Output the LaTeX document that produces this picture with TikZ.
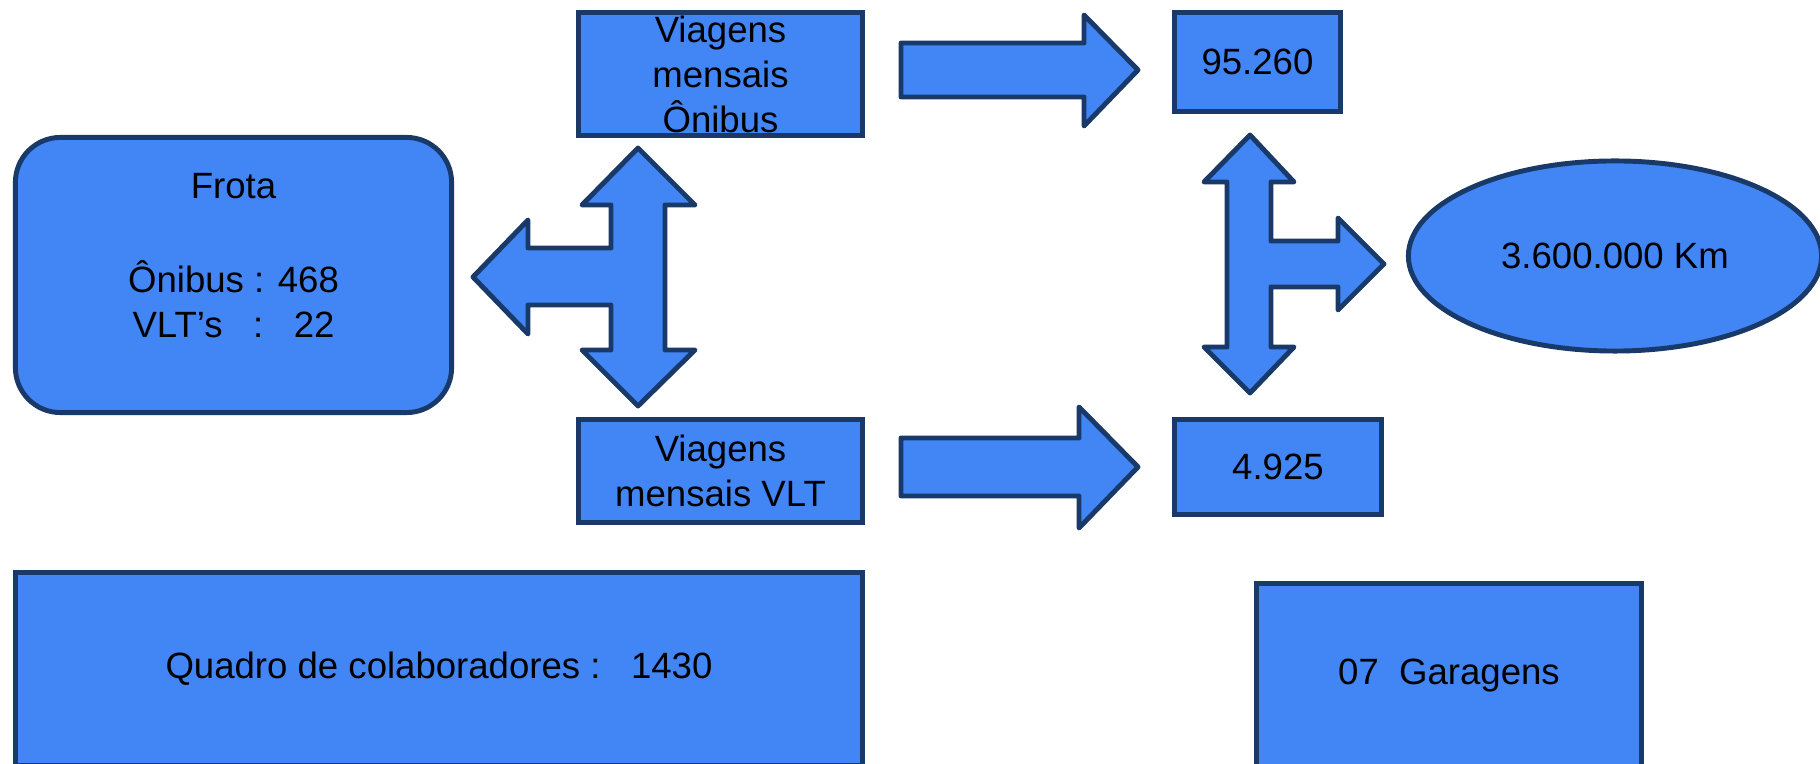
\documentclass[tikz,border=0pt]{standalone}
\usepackage{fontspec}
\setmainfont{Liberation Sans}
\usetikzlibrary{shapes.geometric}
\definecolor{boxfill}{RGB}{66,133,244}
\definecolor{boxedge}{RGB}{25,57,105}

\begin{document}
\begin{tikzpicture}[x=0.01cm, y=-0.01cm,
    box/.style={draw=boxedge, fill=boxfill, line width=1.4pt, inner sep=0pt,
        align=center, font=\fontsize{10.4}{12.8}\selectfont},
    blockarrow/.style={draw=boxedge, fill=boxfill, line width=1.4pt, line join=round}]
\useasboundingbox (0,0) rectangle (1820,764);

% Fleet
\node[box, rounded corners=0.45cm, minimum width=4.36cm, minimum height=2.75cm] (frota) at (233.5,275)
    {\rule{0pt}{12.4pt}Frota\\ \strut\\ \strut Ônibus : 468\\ \strut VLT’s\ \ \ :\ \ \ 22\\ \strut};

% Monthly trips
\node[box, minimum width=2.84cm, minimum height=1.23cm] (vonibus) at (720.5,74) {Viagens\\ mensais\\ Ônibus};
\node[box, minimum width=2.84cm, minimum height=1.03cm] (vvlt) at (720.5,471) {Viagens\\ mensais VLT};

% Totals
\node[box, minimum width=1.66cm, minimum height=0.99cm] (n95) at (1257.5,62) {95.260};
\node[box, minimum width=2.07cm, minimum height=0.95cm] (n4925) at (1278,467) {4.925};
\node[box, ellipse, minimum width=4.13cm, minimum height=1.90cm] (km) at (1615,256) {3.600.000 Km};

% Staff and garages
\node[box, minimum width=8.47cm, minimum height=1.92cm] (quadro) at (439,669) {Quadro de colaboradores :\ \ \ 1430};
\node[box, minimum width=3.85cm, minimum height=1.84cm] (garagens) at (1449,676) {07\ \ Garagens};

% Block arrows
\draw[blockarrow] (638,148) -- (695,205) -- (665,205) -- (665,350) -- (695,350) -- (638,406)
    -- (582,350) -- (611,350) -- (611,305) -- (528,305) -- (528,334) -- (473,277)
    -- (528,220) -- (528,248) -- (611,248) -- (611,205) -- (582,205) -- cycle;
\draw[blockarrow] (1250,135) -- (1294,182) -- (1271,182) -- (1271,241) -- (1338,241) -- (1338,218)
    -- (1384,264) -- (1338,310) -- (1338,287) -- (1271,287) -- (1271,347) -- (1294,347)
    -- (1250,393) -- (1204,347) -- (1227,347) -- (1227,182) -- (1204,182) -- cycle;
\draw[blockarrow] (901,43) -- (1084,43) -- (1084,15) -- (1138,70) -- (1084,126) -- (1084,97) -- (901,97) -- cycle;
\draw[blockarrow] (901,438) -- (1079,438) -- (1079,407) -- (1138,467) -- (1079,528) -- (1079,496) -- (901,496) -- cycle;

\end{tikzpicture}
\end{document}
